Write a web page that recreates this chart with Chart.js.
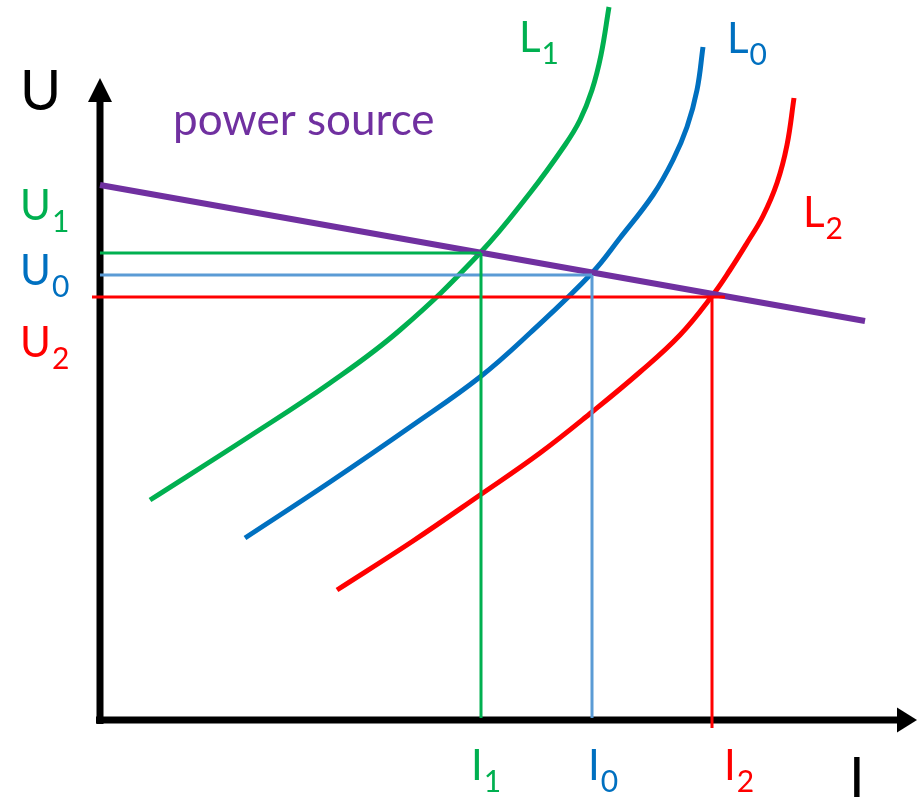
<!DOCTYPE html>
<html>
<head>
<meta charset="utf-8">
<script src="https://cdn.jsdelivr.net/npm/chart.js@4"></script>
<style>
  body { margin: 0; background: #fff; }
  canvas { display: block; }
</style>
</head>
<body>
<canvas id="chart" width="917" height="800"></canvas>
<script>
// operating points: I1, I0, I2 and matching U values (chart units)
const pointNames = ['1', '0', '2'];
const pointColors = ['#00B050', '#5B9BD5', '#FF0000'];
const opCurrent = [381, 492, 612];
const opVoltage = [465, 443, 421];

// power source line
const sourceI = [0, 765];
const sourceU = [533, 397];

// load curves
const l1I = [50, 150, 230, 300, 380, 430, 465, 480, 492, 501, 509];
const l1U = [218, 282, 335, 388, 465, 525, 573, 598, 628, 663, 711];
const l0I = [145, 230, 313, 380, 430, 492, 520, 553, 573, 587, 597, 603];
const l0U = [180, 236, 293, 341, 385, 445, 480, 523, 558, 591, 628, 671];
const l2I = [237, 313, 380, 440, 492, 540, 580, 612, 630, 647, 663, 677, 687, 694];
const l2U = [128, 177, 223, 265, 306, 346, 383, 422, 448, 475, 502, 535, 573, 620];

const pts = (xs, ys) => xs.map((x, i) => ({ x: x, y: ys[i] }));

function guide(i) {
  const ext = i === 2 ? 13 : 0;      // red guide runs a bit past the axes
  return {
    data: [
      { x: i === 2 ? -8 : 0, y: opVoltage[i] },
      { x: opCurrent[i] + ext, y: opVoltage[i] },
      { x: opCurrent[i], y: null },
      { x: opCurrent[i], y: opVoltage[i] },
      { x: opCurrent[i], y: i === 2 ? -10 : 0 }
    ],
    borderColor: pointColors[i],
    borderWidth: 3,
    tension: 0,
    pointRadius: 0,
    spanGaps: false,
    order: 0
  };
}

function curve(xs, ys, color) {
  return {
    data: pts(xs, ys),
    borderColor: color,
    borderWidth: 5,
    tension: 0.4,
    pointRadius: 0,
    order: 2
  };
}

// text labels: [main, sub, color, x, y, size]
const labels = [
  ['U', '', '#000', -80, 608, 56],
  ['I', '', '#000', 749, -79, 56],
  ['U', '1', '#00B050', -80, 498, 42],
  ['U', '0', '#0070C0', -80, 433, 42],
  ['U', '2', '#FF0000', -80, 361, 42],
  ['I', '1', '#00B050', 371, -62, 42],
  ['I', '0', '#0070C0', 488, -62, 42],
  ['I', '2', '#FF0000', 624, -62, 42],
  ['L', '1', '#00B050', 419, 666, 42],
  ['L', '0', '#0070C0', 627, 665, 42],
  ['L', '2', '#FF0000', 703, 491, 42],
  ['power source', '', '#7030A0', 73, 583, 44]
];

const axesPlugin = {
  id: 'axes',
  beforeDatasetsDraw(chart) {
    const ctx = chart.ctx;
    const x = chart.scales.x, y = chart.scales.y;
    const ox = x.getPixelForValue(0), oy = y.getPixelForValue(-2);
    const yTip = y.getPixelForValue(640), xTip = x.getPixelForValue(817);
    ctx.save();
    ctx.strokeStyle = '#000';
    ctx.fillStyle = '#000';
    ctx.lineWidth = 7;
    ctx.beginPath();
    ctx.moveTo(ox, oy + 4);
    ctx.lineTo(ox, yTip + 20);
    ctx.moveTo(ox - 4, oy);
    ctx.lineTo(xTip - 18, oy);
    ctx.stroke();
    ctx.beginPath();
    ctx.moveTo(ox, yTip);
    ctx.lineTo(ox - 12, yTip + 24);
    ctx.lineTo(ox + 12, yTip + 24);
    ctx.closePath();
    ctx.fill();
    ctx.beginPath();
    ctx.moveTo(xTip, oy);
    ctx.lineTo(xTip - 20, oy - 12.5);
    ctx.lineTo(xTip - 20, oy + 12.5);
    ctx.closePath();
    ctx.fill();
    ctx.restore();
  },
  afterDraw(chart) {
    const ctx = chart.ctx;
    const x = chart.scales.x, y = chart.scales.y;
    ctx.save();
    ctx.textBaseline = 'alphabetic';
    labels.forEach(([main, sub, color, lx, ly, size]) => {
      const px = x.getPixelForValue(lx), py = y.getPixelForValue(ly);
      ctx.fillStyle = color;
      ctx.font = size + 'px Lato';
      ctx.fillText(main, px, py);
      if (sub) {
        const w = ctx.measureText(main).width;
        ctx.font = Math.round(size * 0.72) + 'px Lato';
        ctx.fillText(sub, px + w + 1, py + 12);
      }
    });
    ctx.restore();
  }
};

new Chart(document.getElementById('chart'), {
  type: 'line',
  data: {
    datasets: [
      guide(0), guide(1), guide(2),
      {
        data: pts(sourceI, sourceU),
        borderColor: '#7030A0',
        borderWidth: 6,
        pointRadius: 0,
        order: 1
      },
      curve(l1I, l1U, '#00B050'),
      curve(l0I, l0U, '#0070C0'),
      curve(l2I, l2U, '#FF0000')
    ]
  },
  options: {
    responsive: false,
    animation: false,
    layout: { padding: 0 },
    plugins: { legend: { display: false }, tooltip: { enabled: false } },
    scales: {
      x: { type: 'linear', min: -100, max: 817, display: false },
      y: { type: 'linear', min: -82, max: 718, display: false }
    }
  },
  plugins: [axesPlugin]
});
</script>
</body>
</html>
